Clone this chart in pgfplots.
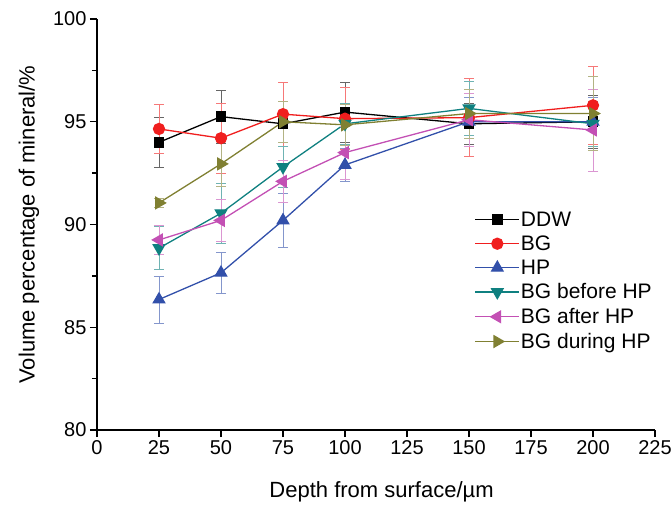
\documentclass[border=0pt]{standalone}
\usepackage{fontspec}
\setmainfont{Liberation Sans}
\usepackage{pgfplots}
\pgfplotsset{compat=1.18}
\usepackage{pgfplotstable}
\definecolor{cDDW}{RGB}{0,0,0}
\definecolor{cBG}{RGB}{240,30,30}
\definecolor{cHP}{RGB}{50,80,170}
\definecolor{cBef}{RGB}{15,128,128}
\definecolor{cAft}{RGB}{195,80,180}
\definecolor{cDur}{RGB}{128,128,50}
\newcommand\bigf{\fontsize{20}{24}\selectfont}
\newcommand\legf{\fontsize{21}{25}\selectfont}
\newcommand\labf{\fontsize{22}{26}\selectfont}
\pgfplotstableread{
x y e
25 94.0 1.2
50 95.25 1.3
75 94.9 1.1
100 95.47 1.45
150 94.9 1.0
200 95.0 1.3
}\tDDW
\pgfplotstableread{
x y e
25 94.65 1.2
50 94.2 1.7
75 95.37 1.55
100 95.15 1.5
150 95.2 1.9
200 95.8 1.9
}\tBG
\pgfplotstableread{
x y e
25 86.35 1.15
50 87.65 1.0
75 90.2 1.3
100 92.9 0.8
150 95.0 1.2
200 95.0 1.2
}\tHP
\pgfplotstableread{
x y e
25 88.85 1.05
50 90.55 1.45
75 92.8 1.0
100 94.9 1.0
150 95.65 1.3
200 94.9 1.1
}\tBef
\pgfplotstableread{
x y e
25 89.25 0.7
50 90.2 1.0
75 92.1 1.0
100 93.5 1.3
150 95.1 1.3
200 94.6 2.0
}\tAft
\pgfplotstableread{
x y e
25 91.05 0.2
50 92.95 1.1
75 95.0 1.0
100 94.85 1.0
150 95.4 1.2
200 95.4 1.8
}\tDur
\begin{document}
\begin{tikzpicture}
\useasboundingbox (-97pt,-74pt) rectangle (574pt,430pt);
\begin{axis}[
  at={(0,0)}, anchor=south west,
  scale only axis, width=558pt, height=411pt,
  xmin=0, xmax=225, ymin=80, ymax=100,
  axis x line=bottom, axis y line=left,
  axis line style={line width=1.6pt, -},
  xtick={0,25,...,225}, ytick={80,85,...,100},
  minor ytick={82.5,87.5,92.5,97.5},
  tick align=outside, major tick length=7pt, minor tick length=5pt,
  every tick/.style={black, line width=1.4pt},
  /pgf/number format/assume math mode=true,
  tick label style={font=\bigf},
  xlabel={Depth from surface/µm},
  ylabel={Volume percentage of mineral/\%},
  every axis x label/.style={at={(axis description cs:0.51,0)}, yshift=-62pt, anchor=center, font=\labf},
  every axis y label/.style={at={(axis description cs:0,0.5)}, xshift=-68pt, rotate=90, anchor=center, font=\labf},
  clip=false,
  legend style={at={(axis cs:151,90.78)}, anchor=north west, draw=none, fill=none,
    font=\legf, row sep=6pt, nodes={inner sep=1pt}},
  legend cell align=left,
  legend image code/.code={\draw[mark repeat=2,mark phase=2] plot coordinates {(0pt,0pt)(22pt,0pt)(44pt,0pt)};},
  every axis plot/.append style={line width=1.3pt},
  error bars/y dir=both, error bars/y explicit,
]
\addplot[cDDW, mark=square*, mark size=4.8pt,
  error bars/error bar style={cDDW!60, line width=0.7pt},
  error bars/error mark options={rotate=90, cDDW!60, mark size=5pt, line width=0.7pt}]
  table[x=x, y=y, y error=e]{\tDDW};
\addlegendentry{DDW}
\addplot[cBG, mark=*, mark size=5.5pt,
  error bars/error bar style={cBG!60, line width=0.7pt},
  error bars/error mark options={rotate=90, cBG!60, mark size=5pt, line width=0.7pt}]
  table[x=x, y=y, y error=e]{\tBG};
\addlegendentry{BG}
\addplot[cHP, mark=triangle*, mark size=6.5pt,
  error bars/error bar style={cHP!60, line width=0.7pt},
  error bars/error mark options={rotate=90, cHP!60, mark size=5pt, line width=0.7pt}]
  table[x=x, y=y, y error=e]{\tHP};
\addlegendentry{HP}
\addplot[cBef, mark=triangle*, mark size=6.5pt, mark options={rotate=180},
  error bars/error bar style={cBef!60, line width=0.7pt},
  error bars/error mark options={rotate=90, cBef!60, mark size=5pt, line width=0.7pt}]
  table[x=x, y=y, y error=e]{\tBef};
\addlegendentry{BG before HP}
\addplot[cAft, mark=triangle*, mark size=6.5pt, mark options={rotate=90},
  error bars/error bar style={cAft!60, line width=0.7pt},
  error bars/error mark options={rotate=90, cAft!60, mark size=5pt, line width=0.7pt}]
  table[x=x, y=y, y error=e]{\tAft};
\addlegendentry{BG after HP}
\addplot[cDur, mark=triangle*, mark size=6.5pt, mark options={rotate=-90},
  error bars/error bar style={cDur!60, line width=0.7pt},
  error bars/error mark options={rotate=90, cDur!60, mark size=5pt, line width=0.7pt}]
  table[x=x, y=y, y error=e]{\tDur};
\addlegendentry{BG during HP}
\end{axis}
\end{tikzpicture}
\end{document}
